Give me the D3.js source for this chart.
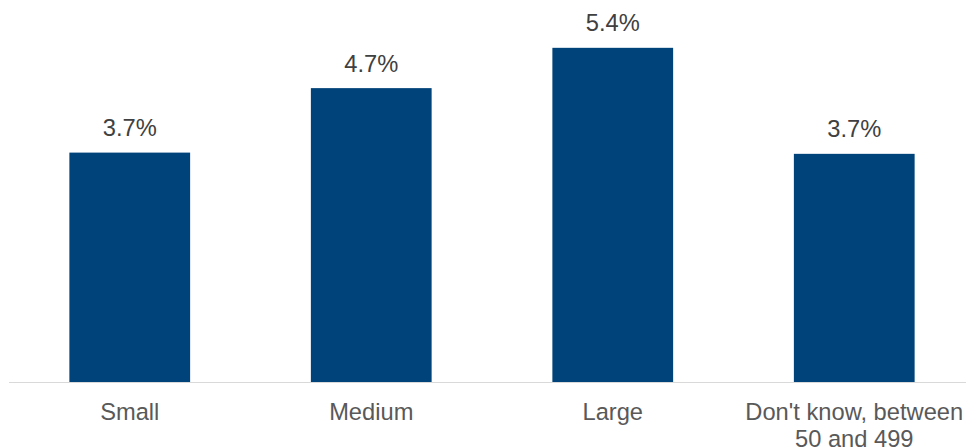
<!DOCTYPE html>
<html>
<head>
<meta charset="utf-8">
<script src="https://cdn.jsdelivr.net/npm/d3@7"></script>
<style>
  html, body { margin: 0; padding: 0; background: #fff; }
  svg { display: block; font-family: "Liberation Sans", Arial, sans-serif; }
</style>
</head>
<body>
<svg id="chart" width="966" height="448"></svg>
<script>
const categories = ["Small", "Medium", "Large", "Don't know, between\n50 and 499"];
const values = [3.70, 4.74, 5.39, 3.68];

const W = 966, H = 448;
const svg = d3.select("#chart");

const x = d3.scaleBand().domain(categories).range([9, 975]).paddingInner(0.5).paddingOuter(0.25);
const y = d3.scaleLinear().domain([0, 6]).range([382, 10]);

const data = categories.map((c, i) => ({ c, v: values[i] }));

// axis line
svg.append("line")
  .attr("x1", 9).attr("x2", W)
  .attr("y1", y(0) + 0.5).attr("y2", y(0) + 0.5)
  .attr("stroke", "#d9d9d9").attr("stroke-width", 1.2);

svg.selectAll("rect.bar").data(data).enter().append("rect")
  .attr("class", "bar")
  .attr("x", d => x(d.c))
  .attr("width", x.bandwidth())
  .attr("y", d => y(d.v))
  .attr("height", d => y(0) - y(d.v))
  .attr("fill", "#00437A");

svg.selectAll("text.val").data(data).enter().append("text")
  .attr("class", "val")
  .attr("x", d => x(d.c) + x.bandwidth() / 2)
  .attr("y", d => y(d.v) - 16.5)
  .attr("text-anchor", "middle")
  .attr("font-size", "23.7px")
  .attr("fill", "#404040")
  .text(d => d.v.toFixed(1) + "%");

const labels = svg.selectAll("text.cat").data(data).enter().append("text")
  .attr("class", "cat")
  .attr("x", d => x(d.c) + x.bandwidth() / 2)
  .attr("y", 419.5)
  .attr("text-anchor", "middle")
  .attr("font-size", "23.7px")
  .attr("fill", "#595959");
labels.each(function(d) {
  const lines = d.c.split("\n");
  const t = d3.select(this);
  lines.forEach((ln, i) => {
    t.append("tspan")
      .attr("x", x(d.c) + x.bandwidth() / 2)
      .attr("dy", i === 0 ? 0 : 27.5)
      .text(ln);
  });
});
</script>
</body>
</html>
